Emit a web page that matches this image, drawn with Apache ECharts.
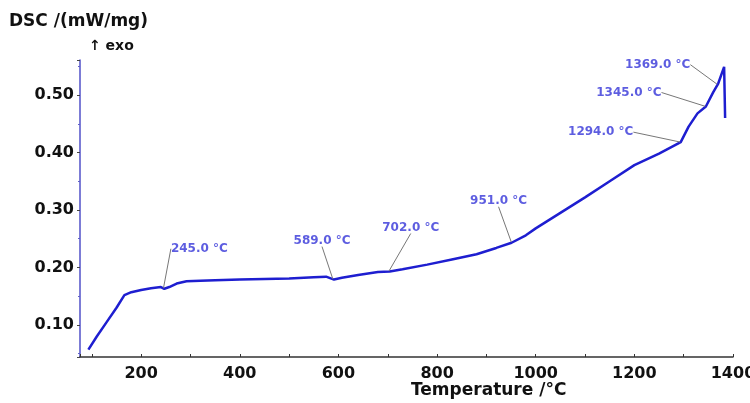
<!DOCTYPE html>
<html>
<head>
<meta charset="utf-8">
<script src="https://cdn.jsdelivr.net/npm/echarts@6/dist/echarts.min.js"></script>
<style>
    html, body { margin: 0; padding: 0; background: #fff; }
    #chart { width: 750px; height: 403px; }
</style>
</head>
<body>
<div id="chart"></div>
<script>
    // DSC curve, temperature (°C) vs DSC (mW/mg)
    var temperature = [93, 110, 130, 150, 166, 180, 200, 220, 240, 247, 257, 272, 292, 320, 350, 400, 450, 500,
        550, 575, 591, 607, 640, 680, 704, 730, 780, 830, 880, 920, 951, 980, 1000, 1050, 1100, 1150, 1200,
        1250, 1294, 1310, 1328, 1345, 1360, 1370, 1382, 1384];
    var dsc = [0.057, 0.080, 0.105, 0.130, 0.152, 0.157, 0.161, 0.164, 0.166, 0.163, 0.166, 0.172, 0.176, 0.177,
        0.178, 0.179, 0.180, 0.181, 0.183, 0.184, 0.179, 0.182, 0.187, 0.192, 0.193, 0.197, 0.205, 0.214, 0.223,
        0.234, 0.243, 0.256, 0.268, 0.295, 0.322, 0.350, 0.378, 0.398, 0.418, 0.445, 0.468, 0.480, 0.505, 0.520,
        0.549, 0.460];

    // annotated temperatures and the label offsets (px) from the curve point
    var peakTemps = [245, 589, 702, 951, 1294, 1345, 1369];
    var peakValues = [0.163, 0.179, 0.193, 0.243, 0.418, 0.480, 0.518];
    var labelDx = [36, -11, 22, -13, -80, -77, -60];
    var labelDy = [-40, -39, -44, -42, -10, -14, -20];

    var xTickLabels = [200, 400, 600, 800, 1000, 1200, 1400];
    var yTickLabels = ['0.10', '0.20', '0.30', '0.40', '0.50'];

    var font = 'DejaVu Sans';
    var curveColor = '#1e1ed0';
    var labelColor = '#3535d8';

    var curveData = temperature.map(function (t, i) { return [t, dsc[i]]; });
    var peakData = peakTemps.map(function (t, i) { return [t, peakValues[i]]; });

    var chart = echarts.init(document.getElementById('chart'));
    chart.setOption({
        animation: false,
        backgroundColor: '#fff',
        grid: { left: 80, right: 17, top: 60, bottom: 46, containLabel: false, outerBoundsMode: 'none' },
        xAxis: {
            type: 'value',
            min: 76,
            max: 1400,
            splitNumber: 7,
            axisLine: { lineStyle: { color: '#333', width: 1.5 } },
            axisTick: { show: true, inside: true, length: 3, lineStyle: { color: '#333' } },
            minorTick: { show: true, splitNumber: 2, length: 3, lineStyle: { color: '#333' } },
            splitLine: { show: false },
            axisLabel: {
                margin: 9,
                color: '#111',
                fontFamily: font,
                fontWeight: 'bold',
                fontSize: 16,
                showMinLabel: false,
                formatter: function (v) {
                    return xTickLabels.indexOf(Math.round(v)) >= 0 && Math.abs(v - Math.round(v)) < 1e-6 ? String(Math.round(v)) : '';
                }
            }
        },
        yAxis: {
            type: 'value',
            min: 0.0443,
            max: 0.5609,
            splitNumber: 5,
            axisLine: { show: true, lineStyle: { color: '#5050c8', width: 1.5 } },
            axisTick: { show: true, length: 3, lineStyle: { color: '#444' } },
            minorTick: { show: true, splitNumber: 2, length: 2, lineStyle: { color: '#6060c8' } },
            splitLine: { show: false },
            axisLabel: {
                margin: 6,
                color: '#111',
                fontFamily: font,
                fontWeight: 'bold',
                fontSize: 16,
                formatter: function (v) {
                    var s = v.toFixed(2);
                    return yTickLabels.indexOf(s) >= 0 && Math.abs(v * 10 - Math.round(v * 10)) < 1e-6 ? s : '';
                }
            }
        },
        graphic: [
            {
                type: 'text', left: 9, top: 13,
                style: { text: 'DSC /(mW/mg)', fill: '#111', font: 'bold 17px "DejaVu Sans"' }
            },
            {
                type: 'text', left: 89, top: 39,
                style: { text: '\u2191 exo', fill: '#111', font: 'bold 14px "DejaVu Sans"' }
            },
            {
                type: 'text', left: 411, top: 382,
                style: { text: 'Temperature /\u00b0C', fill: '#111', font: 'bold 17px "DejaVu Sans"' }
            }
        ],
        series: [
            {
                type: 'line',
                data: curveData,
                showSymbol: false,
                smooth: false,
                lineStyle: { color: curveColor, width: 2.5 },
                z: 3
            },
            {
                type: 'scatter',
                data: peakData,
                symbolSize: 1,
                itemStyle: { color: curveColor },
                label: {
                    show: true,
                    color: labelColor,
                    fontFamily: font,
                    fontWeight: 'bold',
                    fontSize: 12,
                    formatter: function (p) { return p.value[0].toFixed(1) + ' \u00b0C'; }
                },
                labelLine: { show: true, lineStyle: { color: '#777', width: 1 } },
                labelLayout: function (params) {
                    var i = params.dataIndex;
                    var cx = params.rect.x + params.rect.width / 2;
                    var cy = params.rect.y + params.rect.height / 2;
                    return {
                        x: cx + labelDx[i],
                        y: cy + labelDy[i],
                        align: 'center',
                        verticalAlign: 'middle'
                    };
                },
                z: 4
            }
        ]
    });
</script>
</body>
</html>
